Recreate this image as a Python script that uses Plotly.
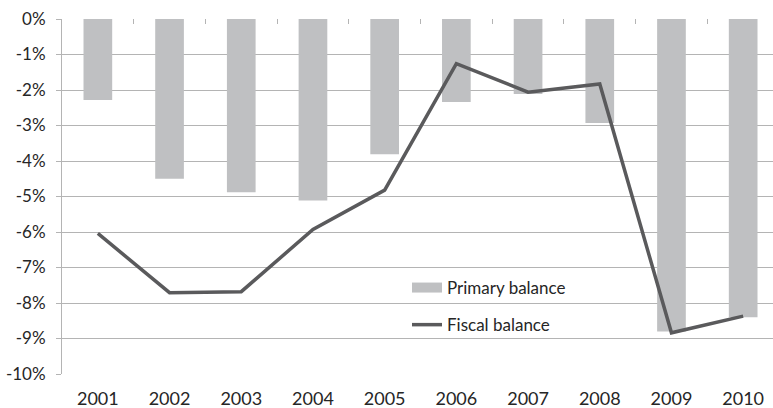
import plotly.graph_objects as go

# Budget balances as a share of GDP, 2001-2010
years = ["2001", "2002", "2003", "2004", "2005", "2006", "2007", "2008", "2009", "2010"]
primary_balance = [-2.28, -4.50, -4.88, -5.11, -3.81, -2.34, -2.11, -2.93, -8.80, -8.40]
fiscal_balance = [-6.04, -7.71, -7.68, -5.93, -4.82, -1.26, -2.06, -1.83, -8.84, -8.37]
y_ticks = [0, -1, -2, -3, -4, -5, -6, -7, -8, -9, -10]
y_tick_labels = [f"{v}%" for v in y_ticks]  # plain hyphen-minus

bar_color = "#bfc0c2"
line_color = "#5a5a5c"
grid_color = "#b4b4b4"
text_color = "#262626"
font_family = "Lato, Open Sans, sans-serif"
font_size = 17

n = len(years)
x_range = [-0.5, n - 0.584]

fig = go.Figure()

fig.add_trace(go.Bar(
    x=years, y=primary_balance, name="Primary balance",
    marker=dict(color=bar_color, line=dict(width=0)),
    width=0.40, showlegend=False,
))
fig.add_trace(go.Scatter(
    x=years, y=fiscal_balance, name="Fiscal balance", mode="lines",
    line=dict(color=line_color, width=3.5), showlegend=False,
))

# Legend entries: a wide flat swatch for the bars and a line for the fiscal balance
fig.add_trace(go.Scatter(
    x=[None], y=[None], name="Primary balance", mode="lines",
    line=dict(color=bar_color, width=10), legendgroup="a",
))
fig.add_trace(go.Scatter(
    x=[None], y=[None], name="Fiscal balance", mode="lines",
    line=dict(color=line_color, width=3.5), legendgroup="b",
))

# Category boundary ticks hanging from the zero line
fig.add_trace(go.Scatter(x=[None], y=[None], xaxis="x2", showlegend=False))

fig.update_layout(
    width=773, height=408,
    margin=dict(l=62, r=0, t=19, b=34),
    paper_bgcolor="white", plot_bgcolor="white",
    font=dict(family=font_family, size=font_size, color=text_color),
    xaxis=dict(
        type="category", range=x_range,
        showgrid=False, showline=False, zeroline=False,
        ticks="", ticklabelstandoff=12,
        tickfont=dict(size=18, color=text_color),
    ),
    xaxis2=dict(
        overlaying="x", side="top", range=x_range,
        tickvals=[i + 0.5 for i in range(n - 1)],
        ticks="inside", ticklen=5, tickcolor=grid_color, tickwidth=1,
        showticklabels=False, showgrid=False, zeroline=False,
        showline=False,
    ),
    yaxis=dict(
        range=[-10, 0], tickvals=y_ticks, ticktext=y_tick_labels,
        showgrid=True, gridcolor=grid_color, gridwidth=1,
        zeroline=False, showline=True, linecolor=grid_color, linewidth=1,
        ticks="outside", ticklen=5, tickcolor=grid_color,
        ticklabelstandoff=7,
        tickfont=dict(size=font_size, color=text_color),
    ),
    legend=dict(
        x=(407 - 62) / 711, y=(408 - 34 - 270) / 355,
        xanchor="left", yanchor="top",
        bgcolor="rgba(0,0,0,0)", borderwidth=0,
        tracegroupgap=12,
        font=dict(size=font_size, color=text_color),
    ),
    showlegend=True,
)

fig.write_html("out.html")
